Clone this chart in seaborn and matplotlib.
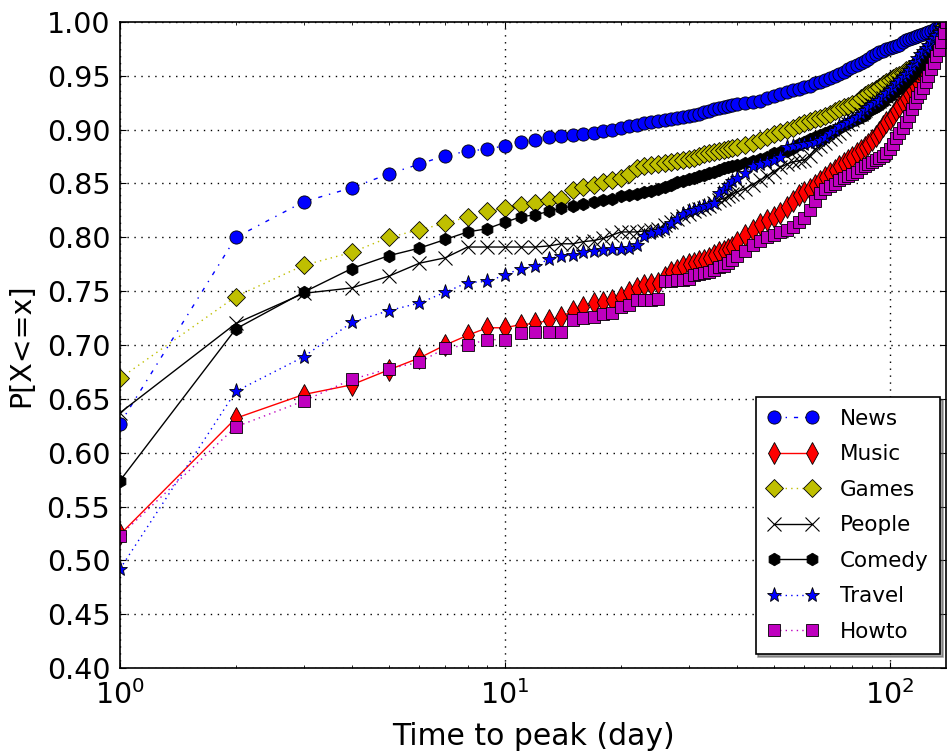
import matplotlib
matplotlib.use("Agg")
import matplotlib.pyplot as plt
import seaborn as sns
import pandas as pd

days = list(range(1, 41)) + list(range(42, 141, 2))

news = [0.627, 0.800, 0.833, 0.846, 0.859, 0.868, 0.876, 0.880, 0.882, 0.885,
        0.889, 0.890, 0.893, 0.894, 0.895, 0.896, 0.897, 0.899, 0.900, 0.902,
        0.903, 0.904, 0.906, 0.907, 0.908, 0.909, 0.910, 0.911, 0.912, 0.913,
        0.914, 0.915, 0.916, 0.917, 0.919, 0.920, 0.921, 0.922, 0.923, 0.924,
        0.925, 0.926, 0.927, 0.929, 0.931, 0.933, 0.935, 0.937, 0.938, 0.940,
        0.941, 0.943, 0.944, 0.946, 0.948, 0.950, 0.952, 0.954, 0.956, 0.958,
        0.960, 0.962, 0.964, 0.966, 0.968, 0.970, 0.972, 0.973, 0.975, 0.976,
        0.977, 0.978, 0.979, 0.981, 0.983, 0.984, 0.985, 0.986, 0.987, 0.988,
        0.989, 0.990, 0.991, 0.992, 0.993, 0.994, 0.995, 0.997, 0.998, 1.000]

music = [0.524, 0.632, 0.654, 0.663, 0.677, 0.688, 0.700, 0.709, 0.716, 0.716,
         0.719, 0.720, 0.723, 0.726, 0.732, 0.735, 0.739, 0.740, 0.742, 0.745,
         0.749, 0.753, 0.756, 0.757, 0.758, 0.763, 0.768, 0.770, 0.773, 0.775,
         0.776, 0.778, 0.779, 0.781, 0.784, 0.786, 0.787, 0.789, 0.791, 0.796,
         0.802, 0.807, 0.812, 0.816, 0.819, 0.823, 0.828, 0.834, 0.839, 0.842,
         0.845, 0.849, 0.852, 0.856, 0.860, 0.863, 0.866, 0.869, 0.872, 0.875,
         0.878, 0.881, 0.884, 0.887, 0.890, 0.894, 0.898, 0.903, 0.907, 0.910,
         0.914, 0.918, 0.922, 0.926, 0.929, 0.933, 0.937, 0.941, 0.945, 0.949,
         0.953, 0.957, 0.962, 0.967, 0.972, 0.977, 0.982, 0.988, 0.994, 1.000]

games = [0.669, 0.745, 0.774, 0.786, 0.800, 0.807, 0.813, 0.819, 0.824, 0.827,
         0.830, 0.832, 0.835, 0.836, 0.844, 0.847, 0.849, 0.851, 0.853, 0.855,
         0.859, 0.864, 0.866, 0.867, 0.868, 0.869, 0.870, 0.871, 0.872, 0.873,
         0.874, 0.876, 0.877, 0.878, 0.879, 0.880, 0.881, 0.882, 0.883, 0.884,
         0.886, 0.888, 0.890, 0.893, 0.896, 0.898, 0.900, 0.902, 0.904, 0.906,
         0.908, 0.910, 0.911, 0.913, 0.915, 0.917, 0.919, 0.921, 0.922, 0.924,
         0.926, 0.929, 0.932, 0.934, 0.936, 0.938, 0.940, 0.942, 0.944, 0.946,
         0.948, 0.950, 0.951, 0.953, 0.955, 0.956, 0.957, 0.958, 0.959, 0.961,
         0.964, 0.968, 0.972, 0.976, 0.980, 0.984, 0.988, 0.992, 0.996, 1.000]

people = [0.637, 0.720, 0.748, 0.753, 0.764, 0.776, 0.781, 0.791, 0.791, 0.791,
          0.791, 0.791, 0.792, 0.794, 0.794, 0.796, 0.797, 0.799, 0.802, 0.805,
          0.805, 0.805, 0.806, 0.807, 0.808, 0.811, 0.814, 0.817, 0.820, 0.822,
          0.824, 0.826, 0.827, 0.829, 0.832, 0.835, 0.836, 0.838, 0.840, 0.842,
          0.845, 0.849, 0.853, 0.857, 0.861, 0.865, 0.868, 0.870, 0.871, 0.872,
          0.876, 0.882, 0.885, 0.888, 0.891, 0.894, 0.897, 0.901, 0.905, 0.909,
          0.912, 0.915, 0.918, 0.921, 0.923, 0.925, 0.927, 0.929, 0.931, 0.934,
          0.937, 0.940, 0.943, 0.946, 0.949, 0.951, 0.953, 0.955, 0.957, 0.959,
          0.962, 0.966, 0.970, 0.974, 0.978, 0.982, 0.986, 0.991, 0.995, 1.000]

comedy = [0.574, 0.715, 0.749, 0.771, 0.783, 0.790, 0.798, 0.805, 0.808, 0.814,
          0.819, 0.821, 0.824, 0.827, 0.829, 0.831, 0.833, 0.835, 0.836, 0.838,
          0.839, 0.840, 0.842, 0.843, 0.845, 0.847, 0.849, 0.851, 0.852, 0.854,
          0.855, 0.857, 0.858, 0.860, 0.861, 0.863, 0.864, 0.865, 0.866, 0.867,
          0.869, 0.871, 0.873, 0.875, 0.878, 0.879, 0.880, 0.883, 0.887, 0.889,
          0.891, 0.893, 0.895, 0.897, 0.899, 0.900, 0.902, 0.904, 0.906, 0.908,
          0.910, 0.912, 0.914, 0.917, 0.919, 0.921, 0.923, 0.926, 0.929, 0.931,
          0.934, 0.937, 0.939, 0.942, 0.945, 0.948, 0.951, 0.954, 0.957, 0.960,
          0.963, 0.966, 0.970, 0.974, 0.978, 0.982, 0.986, 0.991, 0.995, 1.000]

travel = [0.492, 0.657, 0.689, 0.721, 0.732, 0.739, 0.749, 0.758, 0.759, 0.765,
          0.771, 0.773, 0.780, 0.783, 0.784, 0.786, 0.787, 0.788, 0.789, 0.789,
          0.790, 0.793, 0.801, 0.804, 0.806, 0.808, 0.813, 0.817, 0.822, 0.824,
          0.825, 0.827, 0.829, 0.830, 0.832, 0.841, 0.845, 0.849, 0.852, 0.855,
          0.860, 0.866, 0.868, 0.870, 0.872, 0.875, 0.884, 0.885, 0.886, 0.887,
          0.888, 0.889, 0.890, 0.893, 0.897, 0.900, 0.903, 0.905, 0.907, 0.909,
          0.912, 0.915, 0.918, 0.921, 0.924, 0.926, 0.928, 0.931, 0.934, 0.937,
          0.940, 0.943, 0.946, 0.949, 0.952, 0.955, 0.959, 0.963, 0.967, 0.970,
          0.973, 0.976, 0.979, 0.982, 0.985, 0.988, 0.991, 0.994, 0.997, 1.000]

howto = [0.523, 0.624, 0.648, 0.668, 0.678, 0.684, 0.697, 0.700, 0.705, 0.705,
         0.711, 0.712, 0.712, 0.712, 0.723, 0.725, 0.726, 0.729, 0.730, 0.735,
         0.737, 0.742, 0.742, 0.742, 0.743, 0.759, 0.759, 0.760, 0.760, 0.761,
         0.765, 0.766, 0.767, 0.768, 0.770, 0.772, 0.773, 0.776, 0.779, 0.783,
         0.787, 0.793, 0.797, 0.800, 0.802, 0.805, 0.807, 0.810, 0.814, 0.818,
         0.825, 0.834, 0.841, 0.845, 0.848, 0.850, 0.853, 0.855, 0.857, 0.859,
         0.861, 0.864, 0.866, 0.868, 0.870, 0.872, 0.874, 0.876, 0.878, 0.882,
         0.887, 0.892, 0.897, 0.902, 0.907, 0.913, 0.919, 0.925, 0.930, 0.934,
         0.939, 0.944, 0.950, 0.956, 0.962, 0.968, 0.974, 0.981, 0.990, 1.000]

labels = ["News", "Music", "Games", "People", "Comedy", "Travel", "Howto"]
series = [news, music, games, people, comedy, travel, howto]
colors = ["#0000ff", "#ff0000", "#bfbf00", "#000000", "#000000", "#0000ff", "#bf00bf"]
linestyles = ["-.", "-", ":", "-", "-", ":", ":"]
markers = ["o", "d", "D", "x", "h", "*", "s"]
msizes = [9.5, 11, 9, 10, 9, 11, 9]

sns.set_style("ticks")
plt.rcParams.update({
    "font.family": ["DejaVu Sans"],
    "text.color": "black", "axes.labelcolor": "black",
    "xtick.color": "black", "ytick.color": "black",
    "xtick.direction": "in", "ytick.direction": "in",
    "xtick.top": True, "ytick.right": True,
    "xtick.major.size": 4, "ytick.major.size": 4,
    "xtick.minor.size": 2, "ytick.minor.size": 2,
    "xtick.minor.visible": True,
    "axes.linewidth": 1.2,
    "lines.scale_dashes": False,
    "lines.dotted_pattern": [1.0, 3.0],
    "lines.dashdot_pattern": [3.0, 5.0, 1.0, 5.0],
})

fig = plt.figure(figsize=(9.48, 7.51), dpi=100)
ax = fig.add_axes([120 / 948, (751 - 668) / 751, 826 / 948, 646 / 751])

for lab, vals, c, ls, mk, ms in zip(labels, series, colors, linestyles, markers, msizes):
    df = pd.DataFrame({"day": days, "p": vals})
    sns.lineplot(data=df, x="day", y="p", ax=ax, color=c, linestyle=ls, marker=mk,
                 markersize=ms, markeredgecolor="k" if mk != "x" else c,
                 markeredgewidth=0.6 if mk != "x" else 0.8,
                 linewidth=1.0, label=lab, sort=False, estimator=None)

ax.set_xscale("log")
ax.set_xlim(1, 140)
ax.set_ylim(0.40, 1.00)
ax.set_yticks([0.40 + 0.05 * i for i in range(13)])
ax.set_yticklabels(["%.2f" % (0.40 + 0.05 * i) for i in range(13)])
ax.grid(True, which="major", color="k", linestyle=(0, (1, 4)), linewidth=1.0)
ax.tick_params(axis="both", which="major", labelsize=20.5)
ax.tick_params(axis="y", pad=7)
ax.tick_params(axis="x", pad=9)
ax.set_xlabel("Time to peak (day)", fontsize=21.5, labelpad=8)
ax.set_ylabel("P[X<=x]", fontsize=20.5, labelpad=8)
for s in ax.spines.values():
    s.set_color("k")

leg = ax.legend(loc="lower right", bbox_to_anchor=(0.993, 0.022), borderaxespad=0,
                fontsize=15.5, numpoints=2, handlelength=2.35, handletextpad=1.0,
                labelspacing=0.72, borderpad=0.55, fancybox=False, shadow=True,
                framealpha=1, edgecolor="k")
leg.get_frame().set_linewidth(1.2)

fig.savefig("out.png", dpi=100, facecolor="white")
